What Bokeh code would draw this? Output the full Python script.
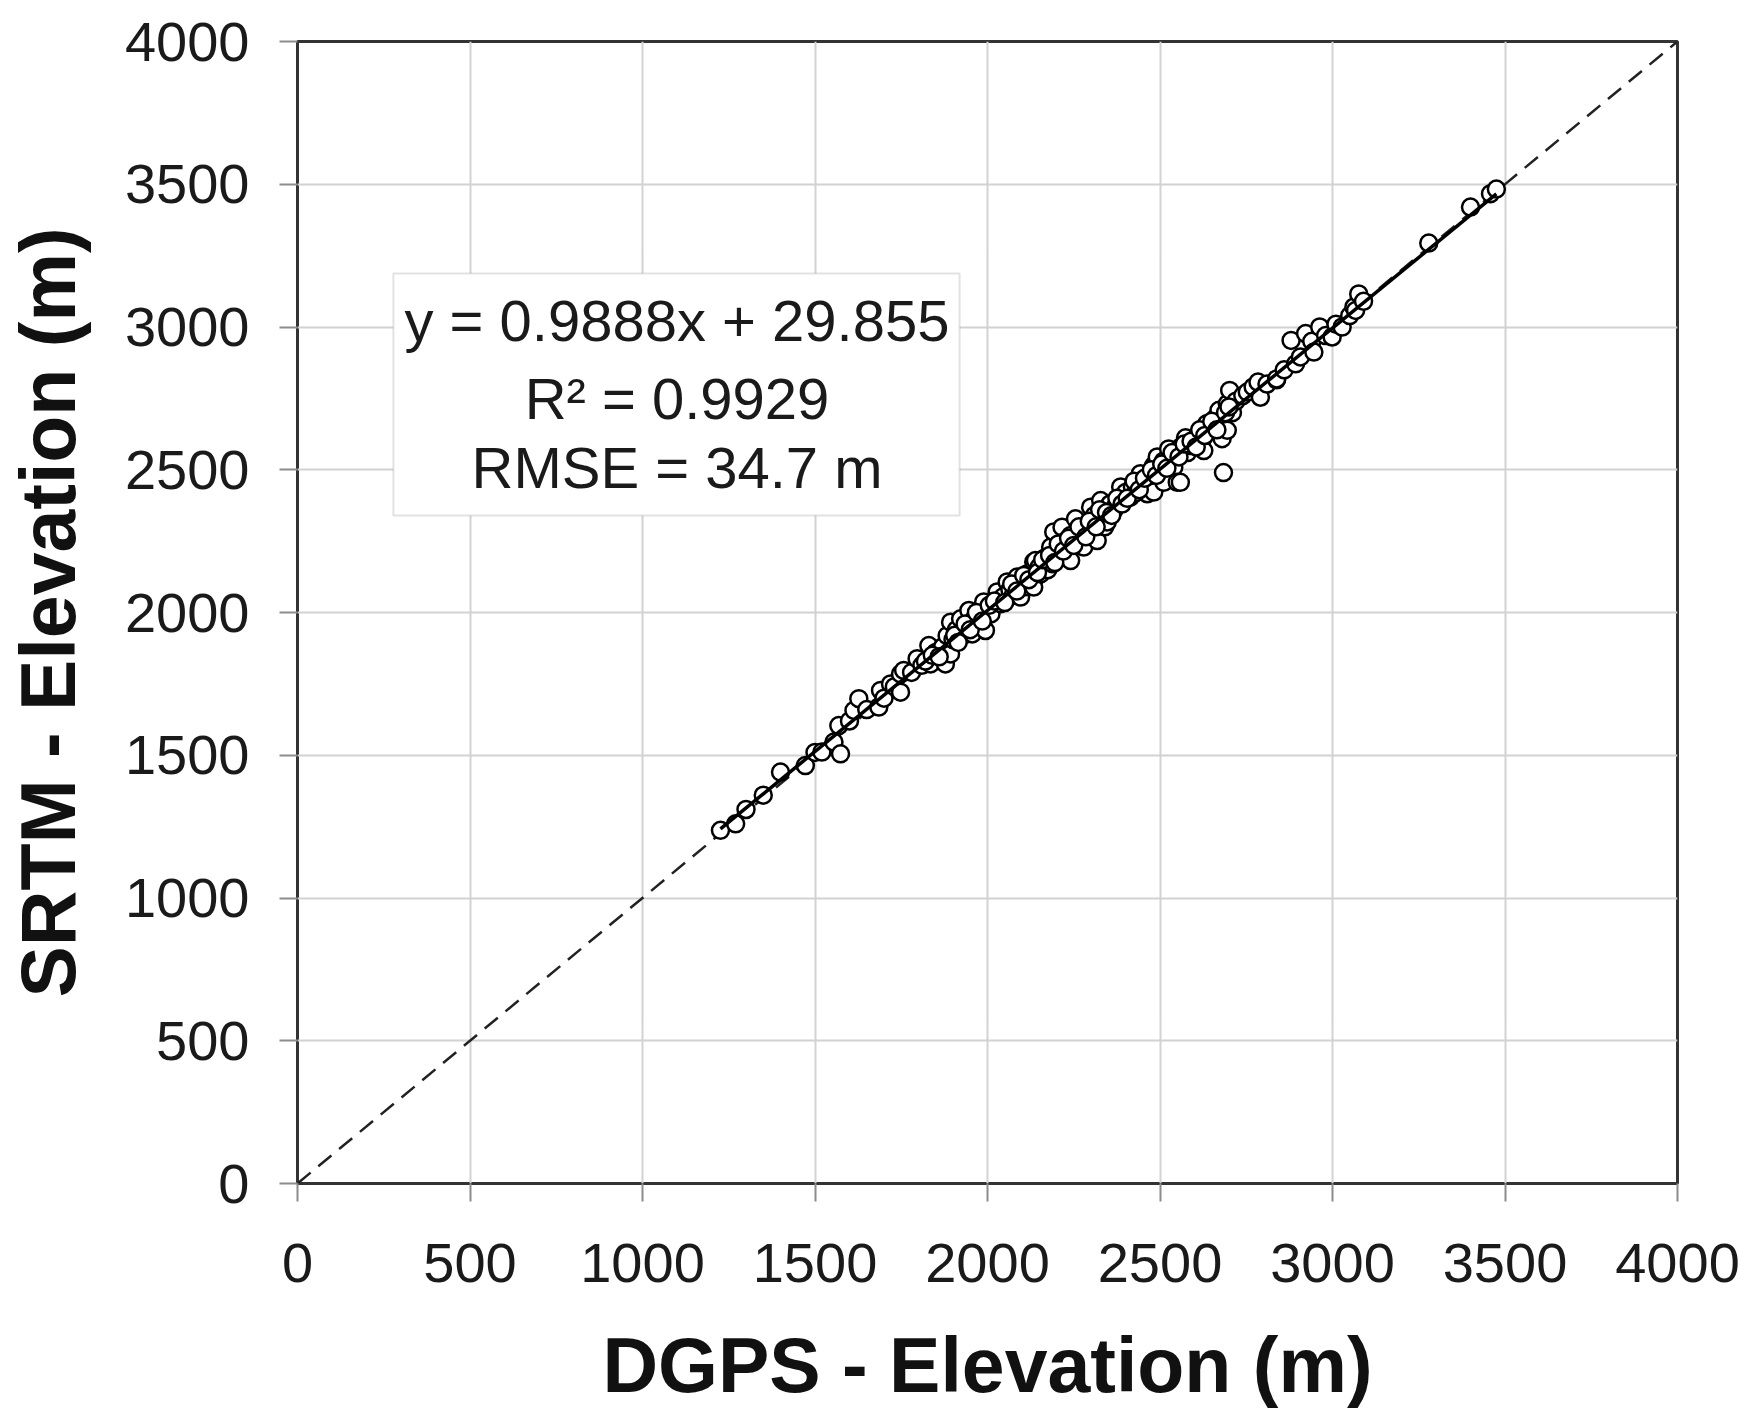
from bokeh.plotting import figure
from bokeh.models import Range1d, SingleIntervalTicker, BoxAnnotation, Label
from bokeh.embed import file_html
from bokeh.resources import INLINE

# DGPS elevation (m) and SRTM elevation (m)
dgps = [1226, 1270, 1300, 1350, 1400, 1472, 1500, 1520, 1555, 1574, 1569, 1600,
        1613, 1627, 1650, 1685, 1690, 1700, 1719, 1730, 1748, 1748, 1757, 1780,
        1796, 1810, 1835, 1830, 1850, 1870, 1878, 1893, 1883, 1893, 1900, 1910,
        1922, 1930, 1946, 1956, 1960, 1975, 1994, 1989, 2000, 2010, 2028, 2038,
        2045, 2057, 2065, 2075, 2086, 2096, 2100, 2110, 2114, 2134, 2134, 2134,
        2139, 2150, 2154, 2165, 2175, 2183, 2188, 2192, 2200, 2210, 2216, 2225,
        2231, 2241, 2241, 2255, 2260, 2270, 2279, 2289, 2299, 2300, 2310, 2318,
        2318, 2328, 2335, 2340, 2347, 2355, 2366, 2370, 2386, 2395, 2400, 2414,
        2420, 2430, 2443, 2450, 2463, 2470, 2482, 2482, 2482, 2492, 2500, 2510,
        2511, 2525, 2530, 2540, 2545, 2550, 2559, 2560, 2574, 2580, 2588, 2600,
        2610, 2620, 2627, 2635, 2640, 2655, 2660, 2671, 2671, 2680, 2680, 2684,
        2695, 2695, 2702, 2710, 2720, 2740, 2753, 2770, 2784, 2791, 2810, 2838,
        2838, 2860, 2880, 2893, 2907, 2922, 2940, 2946, 2963, 2980, 2999, 3010,
        3028, 3050, 3062, 3067, 3076, 3090, 3279, 3400, 3458, 3475,
        1905, 1915, 1935, 1950, 1968, 1985, 2005, 2020, 2050, 2070, 2085, 2105,
        2120, 2145, 2160, 2180, 2195, 2205, 2220, 2235, 2250, 2265, 2285, 2295,
        2315, 2325, 2345, 2360, 2375, 2390, 2405, 2425, 2440, 2455, 2475, 2490,
        2505, 2520, 2535, 2555, 2570, 2590, 2605, 2615, 2630, 2650, 2665, 2690,
        2700, 1820, 1840, 1860]
srtm = [1237, 1260, 1310, 1360, 1441, 1464, 1510, 1511, 1546, 1505, 1604, 1620,
        1657, 1698, 1660, 1669, 1727, 1700, 1750, 1740, 1721, 1785, 1797, 1790,
        1838, 1815, 1820, 1884, 1860, 1880, 1820, 1855, 1919, 1966, 1905, 1940,
        1978, 1920, 2007, 1925, 1975, 1990, 1937, 2037, 2010, 1995, 2072, 2031,
        2055, 2107, 2080, 2060, 2124, 2054, 2100, 2090, 2135, 2112, 2177, 2089,
        2182, 2160, 2135, 2190, 2150, 2229, 2171, 2282, 2210, 2195, 2299, 2250,
        2229, 2270, 2182, 2328, 2250, 2290, 2229, 2282, 2369, 2300, 2340, 2322,
        2252, 2392, 2345, 2300, 2317, 2380, 2357, 2370, 2440, 2392, 2420, 2404,
        2440, 2420, 2486, 2460, 2416, 2480, 2509, 2515, 2422, 2545, 2500, 2530,
        2456, 2573, 2540, 2509, 2560, 2456, 2456, 2580, 2612, 2560, 2585, 2600,
        2620, 2590, 2567, 2661, 2640, 2650, 2680, 2638, 2708, 2609, 2670, 2490,
        2638, 2731, 2778, 2700, 2740, 2760, 2772, 2790, 2807, 2754, 2800, 2815,
        2818, 2850, 2953, 2871, 2895, 2977, 2950, 2912, 3000, 2970, 2965, 3010,
        3000, 3040, 3070, 3058, 3116, 3090, 3294, 3420, 3467, 3483,
        1920, 1895, 1960, 1940, 2000, 1970, 2025, 2040, 2035, 2100, 2075, 2130,
        2115, 2140, 2185, 2200, 2175, 2240, 2215, 2260, 2235, 2300, 2265, 2320,
        2300, 2360, 2350, 2340, 2400, 2380, 2400, 2460, 2430, 2470, 2500, 2480,
        2520, 2505, 2560, 2545, 2590, 2600, 2580, 2640, 2620, 2670, 2640, 2700,
        2720, 1830, 1850, 1845]

fit_slope = 0.9888
fit_intercept = 29.855
one_to_one = [0, 4000]
tick_step = 500
eq_lines = ["y = 0.9888x + 29.855", "R\u00b2 = 0.9929", "RMSE = 34.7 m"]

FONT = "Liberation Sans"

p = figure(width=1745, height=1413, output_backend="svg", toolbar_location=None,
           x_range=Range1d(0, 4000), y_range=Range1d(0, 4000),
           min_border_left=297, min_border_right=68, min_border_top=41,
           min_border_bottom=230)
p.background_fill_color = "white"
p.border_fill_color = "white"
p.outline_line_color = "#333333"
p.outline_line_width = 3

for ax in (p.xaxis, p.yaxis):
    ax.ticker = SingleIntervalTicker(interval=tick_step)
    ax.axis_line_color = None
    ax.major_tick_line_color = "#8c8c8c"
    ax.major_tick_line_width = 2
    ax.major_tick_out = 18
    ax.major_tick_in = 0
    ax.minor_tick_line_color = None
    ax.major_label_text_font = FONT
    ax.major_label_text_font_size = "56px"
    ax.major_label_text_color = "#1a1a1a"
    ax.axis_label_text_font = FONT
    ax.axis_label_text_font_style = "bold"
    ax.axis_label_text_font_size = "77px"
    ax.axis_label_text_color = "#111111"

p.xaxis.axis_label = "DGPS - Elevation (m)"
p.yaxis.axis_label = "SRTM - Elevation (m)"
p.xaxis.major_label_standoff = 42
p.yaxis.major_label_standoff = 30
p.xaxis.axis_label_standoff = 37
p.yaxis.axis_label_standoff = 31

p.grid.grid_line_color = "#d2d2d2"
p.grid.grid_line_width = 2
p.xgrid.ticker = SingleIntervalTicker(interval=tick_step)
p.ygrid.ticker = SingleIntervalTicker(interval=tick_step)

# 1:1 line
p.line(one_to_one, one_to_one, line_color="#222222", line_width=2.5, line_dash="17 10")

# points
p.scatter(dgps, srtm, marker="circle", size=17, fill_color="white",
          line_color="black", line_width=2.5)

# regression line
xmin, xmax = min(dgps), max(dgps)
p.line([xmin, xmax], [fit_slope * xmin + fit_intercept, fit_slope * xmax + fit_intercept],
       line_color="black", line_width=3.5)

# text box
box = BoxAnnotation(left=278, right=1919, bottom=2340, top=3187,
                    fill_color="white", fill_alpha=1.0,
                    line_color="#a0a0a0", line_width=2)
p.add_layout(box)
for txt, yb in zip(eq_lines, [3024, 2750, 2508]):
    p.add_layout(Label(x=1100, y=yb, text=txt, text_align="center",
                       text_baseline="alphabetic", text_font=FONT,
                       text_font_size="58px", text_color="#1a1a1a"))

open("out.html", "w").write(file_html(p, INLINE))
